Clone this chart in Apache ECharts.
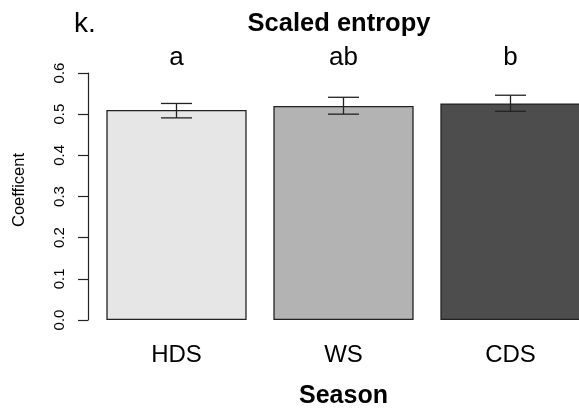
<!DOCTYPE html>
<html>
<head>
<meta charset="utf-8">
<script src="https://cdn.jsdelivr.net/npm/echarts@6/dist/echarts.min.js"></script>
<style>html,body{margin:0;padding:0;background:#fff;overflow:hidden;width:579px;height:414px}#c{width:600px;height:414px}</style>
</head>
<body>
<div id="c"></div>
<script>
var categories = ['HDS', 'WS', 'CDS'];
var means = [0.510, 0.520, 0.526];
var errLow = [0.491, 0.500, 0.507];
var errHigh = [0.526, 0.541, 0.546];
var letters = ['a', 'ab', 'b'];
var letterLevel = 0.636;
var barColors = ['#e6e6e6', '#b3b3b3', '#4d4d4d'];
var yTicks = [0, 0.1, 0.2, 0.3, 0.4, 0.5, 0.6];

var chart = echarts.init(document.getElementById('c'));
var font = 'Liberation Sans, Arial, sans-serif';
chart.setOption({
  animation: false,
  textStyle: { fontFamily: font },
  grid: { left: 93, right: 6, top: 73, bottom: 89, containLabel: false },
  graphic: [
    { type: 'text', left: 74, top: 10, style: { text: 'k.', fontSize: 28, fontFamily: font, fill: '#000' } },
    { type: 'text', x: 339, y: 24, style: { text: 'Scaled entropy', fontSize: 25.5, fontWeight: 'bold', fontFamily: font, fill: '#000', align: 'center', verticalAlign: 'middle' } },
    { type: 'text', x: 19, y: 190, rotation: Math.PI / 2, style: { text: 'Coefficent', fontSize: 16.5, fontFamily: font, fill: '#000', align: 'center', verticalAlign: 'middle' } }
  ],
  xAxis: {
    type: 'category',
    data: categories,
    axisLine: { show: false },
    axisTick: { show: false },
    axisLabel: { fontSize: 24, color: '#000', margin: 23, fontFamily: font },
    name: 'Season',
    nameLocation: 'middle',
    nameGap: 64,
    nameTextStyle: { fontSize: 25, fontWeight: 'bold', color: '#000', fontFamily: font }
  },
  yAxis: {
    type: 'value',
    min: yTicks[0],
    max: yTicks[yTicks.length - 1],
    interval: 0.1,
    offset: 5,
    splitLine: { show: false },
    axisLine: { show: true, lineStyle: { color: '#222', width: 1.2 } },
    axisTick: { show: true, inside: false, length: 10, lineStyle: { color: '#222', width: 1.2 } },
    axisLabel: { rotate: 90, fontSize: 15, color: '#000', margin: 21, fontFamily: font,
      formatter: function (v) { return v.toFixed(1); } }
  },
  series: [
    {
      type: 'bar',
      barCategoryGap: '16%',
      data: means.map(function (v, i) {
        return { value: v, itemStyle: { color: barColors[i], borderColor: '#222', borderWidth: 1.3 } };
      })
    },
    {
      type: 'custom',
      renderItem: function (params, api) {
        var x = api.value(0);
        var lo = api.coord([x, api.value(1)]);
        var hi = api.coord([x, api.value(2)]);
        var hw = 15.5;
        var st = { stroke: '#222', lineWidth: 1.3 };
        return {
          type: 'group',
          children: [
            { type: 'line', shape: { x1: lo[0], y1: lo[1], x2: hi[0], y2: hi[1] }, style: st },
            { type: 'line', shape: { x1: lo[0] - hw, y1: lo[1], x2: lo[0] + hw, y2: lo[1] }, style: st },
            { type: 'line', shape: { x1: hi[0] - hw, y1: hi[1], x2: hi[0] + hw, y2: hi[1] }, style: st }
          ]
        };
      },
      data: categories.map(function (c, i) { return [i, errLow[i], errHigh[i]]; }),
      z: 5
    },
    {
      type: 'custom',
      clip: false,
      renderItem: function (params, api) {
        var p = api.coord([api.value(0), api.value(1)]);
        return {
          type: 'text',
          x: p[0], y: p[1],
          style: { text: letters[params.dataIndex], fontSize: 26, fontFamily: font, fill: '#000', align: 'center', verticalAlign: 'middle' }
        };
      },
      data: categories.map(function (c, i) { return [i, letterLevel]; })
    }
  ]
});
</script>
</body>
</html>
